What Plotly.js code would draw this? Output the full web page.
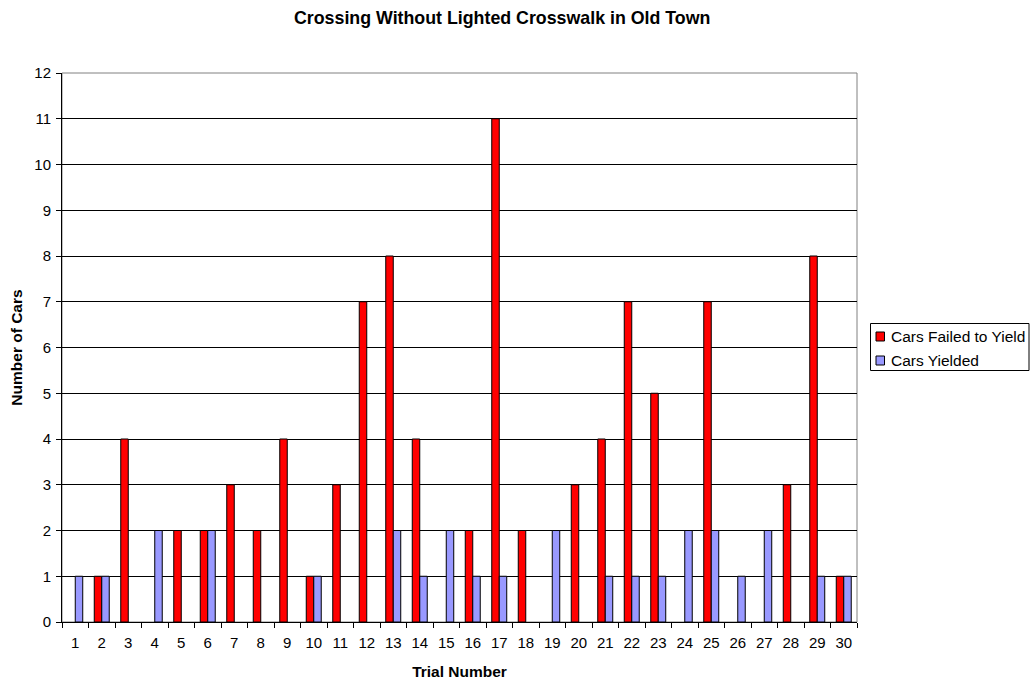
<!DOCTYPE html>
<html>
<head>
<meta charset="utf-8">
<script src="https://cdn.plot.ly/plotly-3.0.1.min.js"></script>
<style>html,body{margin:0;padding:0;background:#fff}#chart{width:1030px;height:681px}</style>
</head>
<body>
<div id="chart"></div>
<script>
var trials = ["1","2","3","4","5","6","7","8","9","10","11","12","13","14","15","16","17","18","19","20","21","22","23","24","25","26","27","28","29","30"];
var failedToYield = [0,1,4,0,2,2,3,2,4,1,3,7,8,4,0,2,11,2,0,3,4,7,5,0,7,0,0,3,8,1];
var yielded = [1,1,0,2,0,2,0,0,0,1,0,0,2,1,2,1,1,0,2,0,1,1,1,2,2,1,2,0,1,1];
var yTicks = [0,1,2,3,4,5,6,7,8,9,10,11,12];
var seriesNames = ["Cars Failed to Yield", "Cars Yielded"];
var seriesColors = ["#FF0000", "#9999FF"];

var font = "Liberation Sans, Arial, sans-serif";
// plot area in pixels
var L = 62, R = 857, T = 73, B = 622;
function px(x){ return (x - L) / (R - L); }
function py(y){ return (B - y) / (B - T); }
function outline(vals){ return vals.map(function(v){ return v > 0 ? 1 : 0; }); }

var traces = [
  {type:"bar", name:seriesNames[0], x:trials, y:failedToYield,
   marker:{color:seriesColors[0], line:{color:"#000000", width:outline(failedToYield)}}},
  {type:"bar", name:seriesNames[1], x:trials, y:yielded,
   marker:{color:seriesColors[1], line:{color:"#000000", width:outline(yielded)}}}
];

var shapes = [
  {type:"rect", xref:"paper", yref:"paper", x0:0, x1:1, y0:0, y1:1,
   line:{color:"#808080", width:1}, layer:"below"},
  // legend box
  {type:"rect", xref:"paper", yref:"paper", x0:px(870.5), x1:px(1029), y0:py(323.5), y1:py(370.5),
   line:{color:"#000", width:1}, fillcolor:"#fff", layer:"above"}
];
var annotations = [];
var rowY = [336.5, 360.5];
for (var i = 0; i < 2; i++) {
  shapes.push({type:"rect", xref:"paper", yref:"paper", x0:px(876), x1:px(884.5),
    y0:py(rowY[i]-4.5), y1:py(rowY[i]+4.5), line:{color:"#000", width:1}, fillcolor:seriesColors[i], layer:"above"});
  annotations.push({xref:"paper", yref:"paper", x:px(888.5), y:py(rowY[i]), xanchor:"left", yanchor:"middle",
    text:seriesNames[i], showarrow:false, font:{family:font, size:15.5, color:"#000"}});
}

var layout = {
  width:1030, height:681,
  paper_bgcolor:"#ffffff", plot_bgcolor:"#ffffff",
  font:{family:font, size:15, color:"#000"},
  margin:{l:L, r:1030-R, t:T, b:681-B, autoexpand:false},
  barmode:"group", bargap:0.435, bargroupgap:0,
  showlegend:false,
  title:{text:"<b>Crossing Without Lighted Crosswalk in Old Town</b>", font:{family:font, size:17.8, color:"#000"},
         x:294/1030, xref:"container", xanchor:"left", y:1-17.5/681, yref:"container", yanchor:"middle"},
  xaxis:{type:"category", tickson:"boundaries", ticks:"outside", ticklen:5, tickcolor:"#000",
         showline:true, linecolor:"#000", linewidth:1, showgrid:false, ticklabelstandoff:7,
         tickfont:{family:font, size:15, color:"#000"},
         title:{text:"<b>Trial Number</b>", font:{family:font, size:15.5, color:"#000"}, standoff:16}},
  yaxis:{range:[0,12], tickvals:yTicks, ticks:"outside", ticklen:5, tickcolor:"#000",
         showline:true, linecolor:"#000", linewidth:1,
         showgrid:true, gridcolor:"#000", gridwidth:1, zeroline:false, ticklabelstandoff:2,
         tickfont:{family:font, size:15, color:"#000"},
         title:{text:"<b>Number of Cars</b>", font:{family:font, size:15.5, color:"#000"}, standoff:7}},
  shapes:shapes,
  annotations:annotations
};
Plotly.newPlot("chart", traces, layout, {displayModeBar:false, staticPlot:true});
</script>
</body>
</html>
